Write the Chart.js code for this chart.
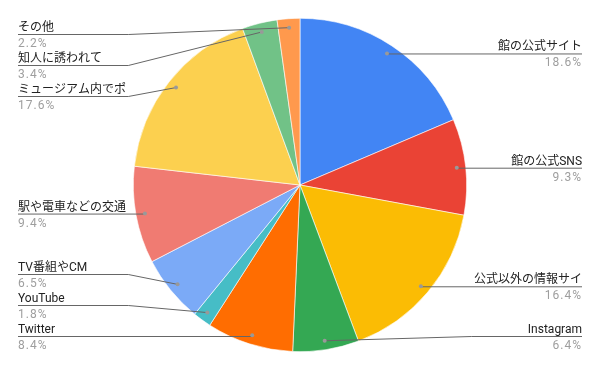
<!DOCTYPE html>
<html>
<head>
<meta charset="utf-8">
<script src="https://cdn.jsdelivr.net/npm/chart.js@4"></script>
<style>
  html, body { margin: 0; padding: 0; background: #fff; }
  #wrap { width: 600px; height: 371px; }
</style>
</head>
<body>
<div id="wrap"><canvas id="pieChart" width="600" height="371"></canvas></div>
<script>
// Survey answers (percent)
const categories = ['館の公式サイト', '館の公式SNS', '公式以外の情報サイ', 'Instagram', 'Twitter', 'YouTube',
  'TV番組やCM', '駅や電車などの交通', 'ミュージアム内でポ', '知人に誘われて', 'その他'];
const shares = [18.6, 9.3, 16.4, 6.4, 8.4, 1.8, 6.5, 9.4, 17.6, 3.4, 2.2];
const sliceColors = ['#4285F4', '#EA4335', '#FBBC04', '#34A853', '#FF6D01', '#46BDC6',
  '#7BAAF7', '#F07B72', '#FCD04F', '#71C287', '#FF994D'];

const FONT = '12px Roboto, "Noto Sans CJK JP", sans-serif';

// spread labels on one side so they don't overlap
function spread(items, minY, maxY, gap) {
  items.sort((a, b) => a.dotY - b.dotY);
  items.forEach(it => { it.y = Math.min(maxY, Math.max(minY, it.dotY)); });
  for (let i = 1; i < items.length; i++) {
    items[i].y = Math.max(items[i].y, items[i - 1].y + gap);
  }
  if (items.length) items[items.length - 1].y = Math.min(items[items.length - 1].y, maxY);
  for (let i = items.length - 2; i >= 0; i--) {
    items[i].y = Math.min(items[i].y, items[i + 1].y - gap);
  }
}

const outsideLabels = {
  id: 'outsideLabels',
  afterDraw(chart) {
    const ctx = chart.ctx;
    const arcs = chart.getDatasetMeta(0).data;
    const left = [], right = [];
    arcs.forEach((arc, i) => {
      const mid = (arc.startAngle + arc.endAngle) / 2;
      const r = arc.outerRadius - 9;
      const item = {
        i,
        dotX: arc.x + Math.cos(mid) * r,
        dotY: arc.y + Math.sin(mid) * r,
        cx: arc.x,
        R: arc.outerRadius
      };
      (Math.cos(mid) >= 0 ? right : left).push(item);
    });
    spread(left, 34, 336, 31);
    spread(right, 34, 336, 31);

    ctx.save();
    ctx.font = FONT;
    const draw = (it, isRight) => {
      const edgeX = isRight ? 582 : 18;
      const elbowX = isRight ? it.cx + it.R + 5 : it.cx - it.R - 5;
      ctx.strokeStyle = '#666';
      ctx.lineWidth = 1;
      ctx.beginPath();
      ctx.moveTo(it.dotX, it.dotY);
      if (Math.abs(it.y - it.dotY) > 1) ctx.lineTo(elbowX, it.y + 0.5);
      else ctx.lineTo(it.dotX, it.y + 0.5);
      ctx.lineTo(edgeX, it.y + 0.5);
      ctx.stroke();

      ctx.fillStyle = '#999';
      ctx.beginPath();
      ctx.arc(it.dotX, it.dotY, 2, 0, Math.PI * 2);
      ctx.fill();

      ctx.textAlign = isRight ? 'right' : 'left';
      ctx.textBaseline = 'alphabetic';
      ctx.letterSpacing = '0px';
      ctx.fillStyle = '#222';
      ctx.fillText(categories[it.i], edgeX, it.y - 3);
      ctx.letterSpacing = '1px';
      ctx.fillStyle = '#9e9e9e';
      ctx.fillText(shares[it.i].toFixed(1) + '%', edgeX, it.y + 13);
    };
    right.forEach(it => draw(it, true));
    left.forEach(it => draw(it, false));
    ctx.restore();
  }
};

new Chart(document.getElementById('pieChart'), {
  type: 'pie',
  data: {
    labels: categories,
    datasets: [{
      data: shares,
      backgroundColor: sliceColors,
      borderColor: '#ffffff',
      borderWidth: 0.6
    }]
  },
  options: {
    responsive: false,
    animation: false,
    layout: { padding: { top: 18, bottom: 19 } },
    plugins: {
      legend: { display: false },
      tooltip: { enabled: false }
    }
  },
  plugins: [outsideLabels]
});
</script>
</body>
</html>
